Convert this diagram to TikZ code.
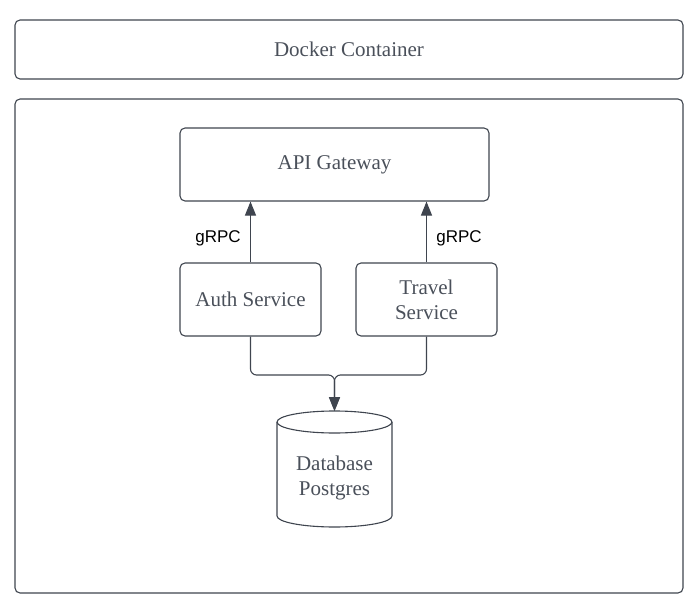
\documentclass[tikz,border=0pt]{standalone}
\usepackage{fontspec}
\setmainfont{Liberation Serif}
\newfontfamily\lblfont{Liberation Sans}
\usetikzlibrary{arrows.meta}
\definecolor{linec}{HTML}{3F454F}
\definecolor{textc}{HTML}{4A505A}
\tikzset{
  box/.style={draw=linec, line width=1.1pt, rounded corners=5pt, text=textc,
    font=\fontsize{21}{25}\selectfont, align=center, inner sep=0pt},
  conn/.style={draw=linec, line width=1.1pt, -{Triangle[length=14pt,width=11pt]}},
  lbl/.style={font=\lblfont\fontsize{17}{20}\selectfont, text=black, inner sep=0pt},
}
\begin{document}
\begin{tikzpicture}[x=1pt,y=-1pt]
\useasboundingbox (0,0) rectangle (697,602);
\node[box, minimum width=668pt, minimum height=59pt] (docker) at (349,49.5) {Docker Container};
\node[box, minimum width=668pt, minimum height=494pt] (outer) at (349,346) {};
\node[box, minimum width=309pt, minimum height=73pt] (api) at (334.5,164.5) {API Gateway};
\node[box, minimum width=141pt, minimum height=73pt] (auth) at (250.5,299.5) {Auth Service};
\node[box, minimum width=141pt, minimum height=73pt] (travel) at (426.5,299.5) {Travel\\Service};
% database cylinder
\draw[draw=linec, line width=1.1pt, fill=white]
  (277,422) -- (277,516) arc[start angle=180, end angle=0, x radius=57.5, y radius=11] -- (392,422);
\draw[draw=linec, line width=1.1pt] (334.5,422) ellipse[x radius=57.5, y radius=11];
\node[text=textc, font=\fontsize{21}{25}\selectfont, align=center] (db) at (334.5,478) {Database\\Postgres};
\coordinate (dbtop) at (334.5,411);
\coordinate (merge) at (334.5,375);
% connectors
\draw[conn] (auth.north) -- (auth.north |- api.south);
\draw[conn] (travel.north) -- (travel.north |- api.south);
\node[lbl] (g1) at (218,238) {gRPC};
\node[lbl] (g2) at (459,238) {gRPC};
\draw[conn, rounded corners=6pt] (auth.south) |- (merge) -- (dbtop);
\draw[conn, rounded corners=6pt] (travel.south) |- (merge) -- (dbtop);
\end{tikzpicture}
\end{document}
